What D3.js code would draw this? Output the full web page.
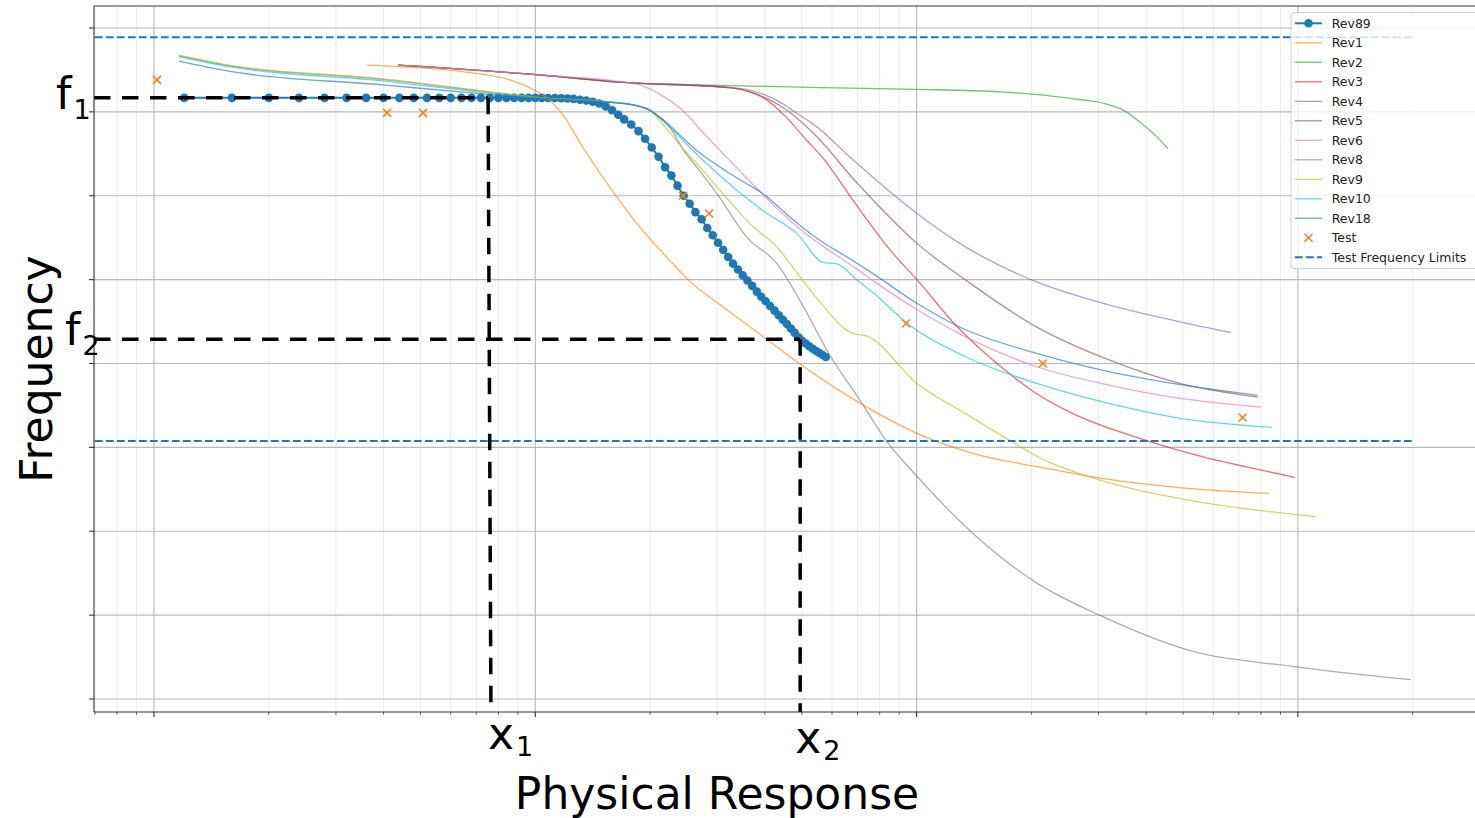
<!DOCTYPE html>
<html lang="en">
<head>
  <meta charset="UTF-8">
  <title>Frequency vs Physical Response</title>
  <script src="https://cdn.jsdelivr.net/npm/d3@7"></script>
  <style>
    html, body { margin: 0; padding: 0; background: #fff; overflow: hidden; }
    svg { display: block; font-family: "DejaVu Sans", sans-serif; }
  </style>
</head>
<body>
  <div id="chart"></div>
  <script>
    // Rev89 (markers + line)
    var rev89X = [1.2, 1.6, 2.0, 2.4, 2.8, 3.2, 3.6, 4.0, 4.4, 4.8, 5.2, 5.6, 6.0, 6.4, 6.8, 7.2, 7.6, 8.0, 8.4, 8.8, 9.2, 9.6,
      10.0, 10.4, 10.8, 11.25, 11.7, 12.15, 12.6, 13.1, 13.6,
      14.15, 14.7, 15.3, 15.9, 16.5, 17.1, 17.85, 18.65, 19.4, 20.2,
      21.05, 21.9, 22.75, 23.6, 24.5, 25.4, 26.3, 27.3, 28.25, 29.2,
      30.15, 31.1, 32.05, 33.0, 34.0, 35.0, 36.0, 37.05, 38.1, 39.15,
      40.2, 41.3, 42.4, 43.5, 44.6, 45.7, 46.8, 47.9, 49.0, 50.1,
      51.2, 52.3, 53.4, 54.5, 55.6, 56.7, 57.8];
    var rev89Y = [7.167, 7.167, 7.167, 7.167, 7.167, 7.167, 7.167, 7.167, 7.167, 7.167, 7.167, 7.167, 7.167, 7.167, 7.167, 7.167, 7.167, 7.167, 7.167, 7.167, 7.167, 7.167,
      7.167, 7.167, 7.166, 7.165, 7.163, 7.16, 7.155, 7.145, 7.135,
      7.12, 7.1, 7.065, 7.02, 6.965, 6.91, 6.85, 6.77, 6.68, 6.575,
      6.465, 6.34, 6.24, 6.12, 6.0, 5.905, 5.805, 5.72, 5.615, 5.528,
      5.44, 5.355, 5.27, 5.19, 5.12, 5.05, 4.99, 4.925, 4.857, 4.795,
      4.742, 4.686, 4.63, 4.575, 4.522, 4.47, 4.417, 4.365, 4.312, 4.27,
      4.238, 4.206, 4.175, 4.148, 4.125, 4.102, 4.078];

    // other revisions, [response, frequency]
    var rev1 = [[3.619, 7.556], [6.742, 7.468], [8.845, 7.361], [11.82, 6.964], [13.34, 6.575], [16.38, 5.98], [18.82, 5.623],
      [22.15, 5.265], [25.45, 4.976], [29.96, 4.726], [34.42, 4.524], [40.52, 4.286], [49.45, 3.994], [73.46, 3.488],
      [100.2, 3.167], [140.4, 2.929], [206.9, 2.77], [305.8, 2.631], [513.7, 2.512], [840.1, 2.452]];
    var rev2 = [[4.364, 7.556], [9.685, 7.449], [17.40, 7.349], [27.04, 7.321], [43.83, 7.301], [66.90, 7.282], [100.2, 7.268],
      [166.1, 7.238], [205.6, 7.208], [255.6, 7.158], [285.0, 7.131], [317.1, 7.089], [353.3, 7.006], [392.6, 6.845],
      [429.7, 6.69], [456.3, 6.563]];
    var rev3 = [[4.364, 7.556], [9.685, 7.449], [17.40, 7.349], [32.40, 7.289], [36.57, 7.238], [39.56, 7.17], [45.44, 6.94],
      [51.60, 6.655], [56.49, 6.464], [68.5, 5.929], [86.73, 5.313], [100.2, 5.0], [125.3, 4.48], [166.1, 3.964],
      [205.6, 3.646], [255.6, 3.408], [392.6, 3.095], [580.1, 2.873], [666.1, 2.81], [982.6, 2.643]];
    var rev4 = [[4.364, 7.556], [9.685, 7.449], [17.40, 7.349], [32.40, 7.289], [36.57, 7.258], [44.62, 7.095], [48.57, 6.98],
      [53.50, 6.857], [68.5, 6.417], [100.2, 5.789], [134.0, 5.393], [205.6, 4.976], [317.1, 4.702], [487.7, 4.5], [667.6, 4.369]];
    var rev5 = [[4.364, 7.556], [9.685, 7.449], [17.40, 7.349], [32.40, 7.289], [36.57, 7.238], [44.62, 7.051], [53.50, 6.75],
      [68.96, 6.179], [100.2, 5.432], [134.0, 5.0], [205.6, 4.44], [317.1, 4.048], [487.7, 3.765], [784.6, 3.599]];
    var rev6 = [[4.364, 7.556], [9.685, 7.449], [17.40, 7.349], [18.82, 7.321], [20.85, 7.23], [24.40, 7.012], [27.53, 6.754],
      [32.40, 6.417], [39.56, 6.012], [45.44, 5.75], [51.60, 5.536], [56.49, 5.405], [70.08, 5.119], [76.87, 4.988],
      [100.2, 4.643], [134.0, 4.321], [205.6, 3.964], [317.1, 3.746], [487.7, 3.587], [800.3, 3.48]];
    var rev8 = [[1.163, 7.667], [1.554, 7.554], [3.987, 7.387], [7.293, 7.244], [9.863, 7.173], [15.70, 7.119], [18.04, 7.083],
      [19.99, 7.018], [22.56, 6.813], [24.55, 6.536], [26.55, 6.337], [29.96, 6.024], [35.91, 5.504], [43.04, 5.19],
      [49.45, 4.75], [59.29, 4.095], [71.07, 3.56], [83.15, 3.083], [100.2, 2.655], [140.4, 1.976], [206.9, 1.381],
      [305.8, 0.988], [513.7, 0.587], [1001, 0.381], [1980, 0.23]];
    var rev9 = [[1.163, 7.675], [1.554, 7.56], [3.987, 7.393], [7.293, 7.25], [9.863, 7.179], [15.70, 7.119], [18.04, 7.083],
      [19.99, 7.018], [21.88, 6.821], [24.70, 6.536], [26.55, 6.381], [31.06, 6.024], [36.57, 5.667], [43.04, 5.385],
      [53.50, 4.833], [68.12, 4.357], [74.13, 4.327], [100.2, 3.762], [134.0, 3.405], [168.5, 3.131], [214.5, 2.857],
      [282.9, 2.651], [513.7, 2.373], [1119, 2.175]];
    var rev10 = [[1.163, 7.658], [1.554, 7.542], [3.987, 7.369], [7.293, 7.232], [9.863, 7.167], [15.70, 7.113], [18.04, 7.083],
      [19.99, 7.018], [21.62, 6.893], [25.94, 6.536], [33.39, 6.083], [39.56, 5.821], [48.57, 5.548], [56.84, 5.206],
      [61.85, 5.187], [70.08, 4.988], [76.87, 4.845], [94.36, 4.48], [134.0, 4.083], [205.6, 3.765], [317.1, 3.527],
      [487.7, 3.349], [855.5, 3.238]];
    var rev18 = [[1.163, 7.604], [1.554, 7.488], [3.987, 7.321], [7.293, 7.214], [9.863, 7.167], [15.70, 7.113], [18.04, 7.083],
      [19.99, 7.018], [21.62, 6.905], [26.55, 6.536], [34.42, 6.19], [39.56, 6.024], [47.40, 5.714], [54.08, 5.512],
      [70.08, 5.19], [76.87, 5.071], [100.2, 4.718], [130.0, 4.432], [205.6, 4.123], [317.1, 3.905], [487.7, 3.75], [784.6, 3.619]];

    var revNames = ["Rev1", "Rev2", "Rev3", "Rev4", "Rev5", "Rev6", "Rev8", "Rev9", "Rev10", "Rev18"];
    var revData = [rev1, rev2, rev3, rev4, rev5, rev6, rev8, rev9, rev10, rev18];

    // test points
    var testX = [1.018, 4.084, 5.076, 24.40, 28.55, 93.8, 214.2, 716.1];
    var testY = [7.381, 6.988, 6.988, 6.0, 5.789, 4.476, 4.0, 3.357];

    // test frequency limits
    var limitY = [7.89, 3.077];
    var limitX = [0.7, 2000];

    // annotation values
    var f1 = 7.167, f2 = 4.29;
    var x1Top = 7.52, x1Bottom = 7.65, x2 = 49.5;

    // ticks (labels hidden in the original)
    var yTicks = [0, 1, 2, 3, 4, 5, 6, 7, 8];
    var xMajorTicks = [1, 10, 100, 1000];
    var xMinorTicks = [0.7, 0.8, 0.9, 2, 3, 4, 5, 6, 7, 8, 9, 20, 30, 40, 50, 60, 70, 80, 90,
      200, 300, 400, 500, 600, 700, 800, 900, 2000, 3000];

    var revColors = ["#ff7f0e", "#2ca02c", "#d62728", "#9467bd", "#8c564b", "#e377c2", "#7f7f7f", "#bcbd22", "#17becf", "#1f77b4"];
    var blue = "#1f77b4", orange = "#ff7f0e";

    var width = 1475, height = 818;
    var plot = { left: 94, top: 6, right: 1482, bottom: 712 };

    var svg = d3.select("#chart").append("svg")
      .attr("width", width)
      .attr("height", height);

    var x = d3.scaleLog().domain([0.696, 3040]).range([plot.left, plot.right]);
    var y = d3.scaleLinear().domain([-0.155, 8.262]).range([plot.bottom, plot.top]);

    svg.append("clipPath").attr("id", "clip")
      .append("rect")
      .attr("x", plot.left).attr("y", plot.top)
      .attr("width", plot.right - plot.left).attr("height", plot.bottom - plot.top);

    // grid
    var grid = svg.append("g");
    grid.selectAll(".xminor").data(xMinorTicks).enter().append("line")
      .attr("x1", function (d) { return x(d); }).attr("x2", function (d) { return x(d); })
      .attr("y1", plot.top).attr("y2", plot.bottom)
      .attr("stroke", "#ebebeb").attr("stroke-width", 1);
    grid.selectAll(".xmajor").data(xMajorTicks).enter().append("line")
      .attr("x1", function (d) { return x(d); }).attr("x2", function (d) { return x(d); })
      .attr("y1", plot.top).attr("y2", plot.bottom)
      .attr("stroke", "#b8b8b8").attr("stroke-width", 1.1);
    grid.selectAll(".ymajor").data(yTicks).enter().append("line")
      .attr("x1", plot.left).attr("x2", plot.right)
      .attr("y1", function (d) { return y(d); }).attr("y2", function (d) { return y(d); })
      .attr("stroke", "#b8b8b8").attr("stroke-width", 1.1);

    var area = svg.append("g").attr("clip-path", "url(#clip)");

    var line = d3.line()
      .x(function (d) { return x(d[0]); })
      .y(function (d) { return y(d[1]); });
    var smooth = d3.line()
      .curve(d3.curveMonotoneX)
      .x(function (d) { return x(d[0]); })
      .y(function (d) { return y(d[1]); });

    // Rev89
    var rev89 = rev89X.map(function (v, i) { return [v, rev89Y[i]]; });
    area.append("path")
      .attr("d", line(rev89))
      .attr("fill", "none").attr("stroke", blue).attr("stroke-width", 2);
    area.selectAll(".dot").data(rev89).enter().append("circle")
      .attr("cx", function (d) { return x(d[0]); })
      .attr("cy", function (d) { return y(d[1]); })
      .attr("r", 4.3)
      .attr("fill", blue);

    // other revisions
    revData.forEach(function (s, i) {
      area.append("path")
        .attr("d", smooth(s))
        .attr("fill", "none")
        .attr("stroke", revColors[i])
        .attr("stroke-width", 1.3)
        .attr("stroke-opacity", 0.65);
    });

    // test markers
    function cross(g, cx, cy, s) {
      g.append("path")
        .attr("d", "M" + (cx - s) + "," + (cy - s) + "L" + (cx + s) + "," + (cy + s) +
          "M" + (cx - s) + "," + (cy + s) + "L" + (cx + s) + "," + (cy - s))
        .attr("stroke", orange).attr("stroke-width", 1.5).attr("fill", "none");
    }
    testX.forEach(function (v, i) { cross(area, x(v), y(testY[i]), 4); });

    // limits
    limitY.forEach(function (v) {
      area.append("line")
        .attr("x1", x(limitX[0])).attr("x2", x(limitX[1]))
        .attr("y1", y(v)).attr("y2", y(v))
        .attr("stroke", blue).attr("stroke-width", 2)
        .attr("stroke-dasharray", "7.7,3.3");
    });

    // f / x annotation lines
    var dash = "16.5,11.5";
    function blackDash(xa, ya, xb, yb) {
      area.append("line")
        .attr("x1", xa).attr("y1", ya).attr("x2", xb).attr("y2", yb)
        .attr("stroke", "#000").attr("stroke-width", 3.5)
        .attr("stroke-dasharray", dash);
    }
    blackDash(plot.left, y(f1), x(x1Top), y(f1));
    blackDash(x(x1Top), y(f1), x(x1Bottom), plot.bottom);
    blackDash(plot.left, y(f2), x(x2), y(f2));
    blackDash(x(x2), y(f2), x(x2), plot.bottom);

    // spines and ticks
    var ax = svg.append("g").attr("stroke", "#333");
    ax.append("line").attr("x1", plot.left).attr("x2", plot.left).attr("y1", plot.top).attr("y2", plot.bottom).attr("stroke-width", 1.1);
    ax.append("line").attr("x1", plot.left).attr("x2", plot.right).attr("y1", plot.bottom).attr("y2", plot.bottom).attr("stroke-width", 1.1);
    ax.append("line").attr("x1", plot.left).attr("x2", plot.right).attr("y1", plot.top).attr("y2", plot.top).attr("stroke-width", 1.1);
    ax.selectAll(".yt").data(yTicks).enter().append("line")
      .attr("x1", plot.left - 4.9).attr("x2", plot.left)
      .attr("y1", function (d) { return y(d); }).attr("y2", function (d) { return y(d); })
      .attr("stroke-width", 1.1);
    ax.selectAll(".xt").data(xMajorTicks).enter().append("line")
      .attr("x1", function (d) { return x(d); }).attr("x2", function (d) { return x(d); })
      .attr("y1", plot.bottom).attr("y2", plot.bottom + 4.9)
      .attr("stroke-width", 1.1);
    ax.selectAll(".xmt").data(xMinorTicks).enter().append("line")
      .attr("x1", function (d) { return x(d); }).attr("x2", function (d) { return x(d); })
      .attr("y1", plot.bottom).attr("y2", plot.bottom + 2.8)
      .attr("stroke-width", 0.8);

    // legend
    var legendNames = ["Rev89"].concat(revNames).concat(["Test", "Test Frequency Limits"]);
    var lg = svg.append("g");
    lg.append("rect")
      .attr("x", 1291).attr("y", 12.7)
      .attr("width", 190).attr("height", 256)
      .attr("rx", 3)
      .attr("fill", "#fff").attr("fill-opacity", 0.8)
      .attr("stroke", "#cccccc").attr("stroke-width", 1);
    legendNames.forEach(function (name, i) {
      var ry = 23.3 + i * 19.5;
      if (i === 0) {
        lg.append("line").attr("x1", 1295).attr("x2", 1322).attr("y1", ry).attr("y2", ry)
          .attr("stroke", blue).attr("stroke-width", 2);
        lg.append("circle").attr("cx", 1308.5).attr("cy", ry).attr("r", 4.3).attr("fill", blue);
      } else if (name === "Test") {
        cross(lg, 1308.5, ry, 4);
      } else if (name === "Test Frequency Limits") {
        lg.append("line").attr("x1", 1295).attr("x2", 1322).attr("y1", ry).attr("y2", ry)
          .attr("stroke", blue).attr("stroke-width", 2).attr("stroke-dasharray", "7.7,3.3");
      } else {
        lg.append("line").attr("x1", 1295).attr("x2", 1322).attr("y1", ry).attr("y2", ry)
          .attr("stroke", revColors[i - 1]).attr("stroke-width", 1.3).attr("stroke-opacity", 0.65);
      }
      lg.append("text")
        .attr("x", 1331.7).attr("y", ry).attr("dy", "0.36em")
        .style("font-size", "12.5px").attr("fill", "#222")
        .text(name);
    });

    // subscript labels
    function subLabel(px, py, main, sub, subDy) {
      var t = svg.append("text").attr("x", px).attr("y", py)
        .style("font-size", "44px").attr("fill", "#000");
      t.append("tspan").text(main);
      t.append("tspan").attr("dx", 2).attr("dy", subDy).style("font-size", "27px").text(sub);
    }
    subLabel(56, y(f1) + 11, "f", "1", 10);
    subLabel(65, y(f2) + 6, "f", "2", 10);
    subLabel(x(x1Bottom) - 3, 749, "x", "1", 7);
    subLabel(x(x2) - 5, 753, "x", "2", 7);

    // axis titles
    svg.append("text")
      .attr("x", 717).attr("y", 809)
      .attr("text-anchor", "middle")
      .style("font-size", "44px")
      .text("Physical Response");
    svg.append("text")
      .attr("transform", "translate(52,369) rotate(-90)")
      .attr("text-anchor", "middle")
      .style("font-size", "44px")
      .text("Frequency");
  </script>
</body>
</html>
